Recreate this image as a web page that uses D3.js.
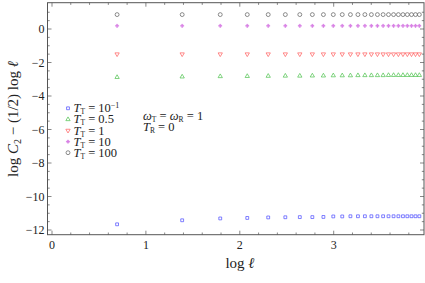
<!DOCTYPE html>
<html>
<head>
<meta charset="utf-8">
<script src="https://cdn.jsdelivr.net/npm/d3@7"></script>
<style>
  body { margin: 0; background: #fff; }
  text { font-family: "Liberation Serif", "DejaVu Serif", serif; }
</style>
</head>
<body>
<div id="chart"></div>
<script>
// chain lengths l = 2, 4, ..., 50
var ells = [2, 4, 6, 8, 10, 12, 14, 16, 18, 20, 22, 24, 26, 28, 30, 32, 34, 36, 38, 40, 42, 44, 46, 48, 50];

var seriesT01 = [-11.66, -11.42, -11.31, -11.28, -11.25, -11.24, -11.23, -11.23, -11.22, -11.19, -11.19, -11.18, -11.18, -11.18, -11.18, -11.18, -11.18, -11.18, -11.18, -11.18, -11.18, -11.18, -11.18, -11.18, -11.18];
var seriesT05 = [-2.88, -2.85, -2.83, -2.82, -2.81, -2.80, -2.80, -2.79, -2.79, -2.78, -2.78, -2.78, -2.77, -2.77, -2.77, -2.77, -2.77, -2.76, -2.76, -2.76, -2.76, -2.76, -2.76, -2.76, -2.76];
var seriesT1 = [-1.50, -1.50, -1.50, -1.50, -1.50, -1.50, -1.50, -1.50, -1.50, -1.50, -1.50, -1.50, -1.50, -1.50, -1.50, -1.50, -1.50, -1.50, -1.50, -1.50, -1.50, -1.50, -1.50, -1.50, -1.50];
var seriesT10 = [0.19, 0.19, 0.19, 0.19, 0.19, 0.19, 0.19, 0.19, 0.19, 0.19, 0.19, 0.19, 0.19, 0.19, 0.19, 0.19, 0.19, 0.19, 0.19, 0.19, 0.19, 0.19, 0.19, 0.19, 0.19];
var seriesT100 = [0.86, 0.86, 0.86, 0.86, 0.86, 0.86, 0.86, 0.86, 0.86, 0.86, 0.86, 0.86, 0.86, 0.86, 0.86, 0.86, 0.86, 0.86, 0.86, 0.86, 0.86, 0.86, 0.86, 0.86, 0.86];

var xTicks = [0, 1, 2, 3];
var yTicks = [-12, -10, -8, -6, -4, -2, 0];

var series = [
    { values: seriesT01, label: "10", sup: "\u22121", color: "#5555ff", shape: "square" },
    { values: seriesT05, label: "0.5", sup: null, color: "#55c455", shape: "up" },
    { values: seriesT1, label: "1", sup: null, color: "#ff6464", shape: "down" },
    { values: seriesT10, label: "10", sup: null, color: "#cc55dd", shape: "star" },
    { values: seriesT100, label: "100", sup: null, color: "#666666", shape: "circle" }
];

var svgWidth = 425;
var svgHeight = 283;

var frame = { left: 47.5, right: 424, top: 2.7, bottom: 234.7 };

var svg = d3.select("#chart").append("svg")
    .attr("width", svgWidth)
    .attr("height", svgHeight);

var xScale = d3.scaleLinear()
    .domain([0, 1])
    .range([52, 145.9]);
xScale.domain([xScale.invert(frame.left), xScale.invert(frame.right)]).range([frame.left, frame.right]);

var yScale = d3.scaleLinear()
    .domain([0, -12])
    .range([29, 230]);
yScale.domain([yScale.invert(frame.bottom), yScale.invert(frame.top)]).range([frame.bottom, frame.top]);

// frame
svg.append("rect")
    .attr("x", frame.left)
    .attr("y", frame.top)
    .attr("width", frame.right - frame.left)
    .attr("height", frame.bottom - frame.top)
    .attr("fill", "none")
    .attr("stroke", "#555")
    .attr("stroke-width", 1);

// ticks, pointing inward on all four sides
var xMinor = d3.range(0, 4.0, 0.2).filter(v => Math.abs(v - Math.round(v)) > 1e-6);
var yMinor = d3.range(-12, 1.5, 0.5).filter(v => Math.abs(v / 2 - Math.round(v / 2)) > 1e-6);

function xTickLines(vals, len) {
    vals.forEach(v => {
        var x = xScale(v);
        svg.append("line").attr("x1", x).attr("x2", x)
            .attr("y1", frame.bottom).attr("y2", frame.bottom - len)
            .attr("stroke", "#555").attr("stroke-width", 0.7);
        svg.append("line").attr("x1", x).attr("x2", x)
            .attr("y1", frame.top).attr("y2", frame.top + len)
            .attr("stroke", "#555").attr("stroke-width", 0.7);
    });
}
function yTickLines(vals, len) {
    vals.forEach(v => {
        var y = yScale(v);
        svg.append("line").attr("x1", frame.left).attr("x2", frame.left + len)
            .attr("y1", y).attr("y2", y)
            .attr("stroke", "#555").attr("stroke-width", 0.7);
        svg.append("line").attr("x1", frame.right).attr("x2", frame.right - len)
            .attr("y1", y).attr("y2", y)
            .attr("stroke", "#555").attr("stroke-width", 0.7);
    });
}
xTickLines(xTicks, 4);
xTickLines(xMinor, 2.2);
yTickLines(yTicks, 4);
yTickLines(yMinor, 2.2);

// tick labels
svg.selectAll(".xlab")
    .data(xTicks)
    .enter()
    .append("text")
    .attr("x", d => xScale(d))
    .attr("y", frame.bottom + 14)
    .attr("text-anchor", "middle")
    .attr("font-size", "12px")
    .attr("fill", "#222")
    .text(d => d);

svg.selectAll(".ylab")
    .data(yTicks)
    .enter()
    .append("text")
    .attr("x", frame.left - 3)
    .attr("y", d => yScale(d) + 4)
    .attr("text-anchor", "end")
    .attr("font-size", "12px")
    .attr("fill", "#222")
    .text(d => d < 0 ? "\u2212" + Math.abs(d) : d);

// axis titles
var xTitle = svg.append("text")
    .attr("x", 240)
    .attr("y", 268)
    .attr("text-anchor", "middle")
    .attr("font-size", "15px")
    .attr("fill", "#222");
xTitle.append("tspan").text("log ");
xTitle.append("tspan").attr("font-style", "italic").text("\u2113");

var yTitle = svg.append("text")
    .attr("transform", "translate(18, 119) rotate(-90)")
    .attr("text-anchor", "middle")
    .attr("font-size", "15px")
    .attr("fill", "#222");
yTitle.append("tspan").text("log ");
yTitle.append("tspan").attr("font-style", "italic").text("C");
yTitle.append("tspan").attr("font-size", "10px").attr("dy", 3).text("2");
yTitle.append("tspan").attr("dy", -3).text(" \u2212 (1/2) log ");
yTitle.append("tspan").attr("font-style", "italic").text("\u2113");

// markers, kept tiny like the original
function symbolPath(shape) {
    if (shape === "square") return d3.symbol(d3.symbolSquare, 8)();
    if (shape === "up" || shape === "down") return d3.symbol(d3.symbolTriangle, 8)();
    if (shape === "star") return d3.symbol(d3.symbolCross, 6)();
    return d3.symbol(d3.symbolCircle, 12)();
}

function drawMarker(g, shape, color, x, y) {
    var rot = shape === "down" ? " rotate(180)" : "";
    g.append("path")
        .attr("d", symbolPath(shape))
        .attr("transform", `translate(${x}, ${y})${rot}`)
        .attr("fill", shape === "star" ? color : "none")
        .attr("fill-opacity", 0.7)
        .attr("stroke", color)
        .attr("stroke-width", shape === "star" ? 0.3 : 0.75);
}

series.forEach(s => {
    var g = svg.append("g");
    s.values.forEach((v, i) => {
        drawMarker(g, s.shape, s.color, xScale(Math.log(ells[i])), yScale(v));
    });
});

// legend
var legend = svg.append("g");
series.forEach((s, i) => {
    var y = 108.3 + i * 11.1;
    drawMarker(legend, s.shape, s.color, 68, y);
    var t = legend.append("text")
        .attr("x", 73.5)
        .attr("y", y + 4)
        .attr("font-size", "12.5px")
        .attr("fill", "#222");
    t.append("tspan").attr("font-style", "italic").text("T");
    t.append("tspan").attr("font-size", "7.5px").attr("dy", 2).text("T");
    t.append("tspan").attr("dy", -2).text(" = " + s.label);
    if (s.sup) {
        t.append("tspan").attr("font-size", "8px").attr("dy", -4.5).text(s.sup);
    }
});

// parameter note
var note1 = svg.append("text")
    .attr("x", 143)
    .attr("y", 120)
    .attr("font-size", "12.5px")
    .attr("fill", "#222");
note1.append("tspan").attr("font-style", "italic").text("\u03c9");
note1.append("tspan").attr("font-size", "7.5px").attr("dy", 2).text("T");
note1.append("tspan").attr("dy", -2).text(" = ");
note1.append("tspan").attr("font-style", "italic").text("\u03c9");
note1.append("tspan").attr("font-size", "7.5px").attr("dy", 2).text("R");
note1.append("tspan").attr("dy", -2).text(" = 1");

var note2 = svg.append("text")
    .attr("x", 143)
    .attr("y", 131)
    .attr("font-size", "12.5px")
    .attr("fill", "#222");
note2.append("tspan").attr("font-style", "italic").text("T");
note2.append("tspan").attr("font-size", "7.5px").attr("dy", 2).text("R");
note2.append("tspan").attr("dy", -2).text(" = 0");
</script>
</body>
</html>
